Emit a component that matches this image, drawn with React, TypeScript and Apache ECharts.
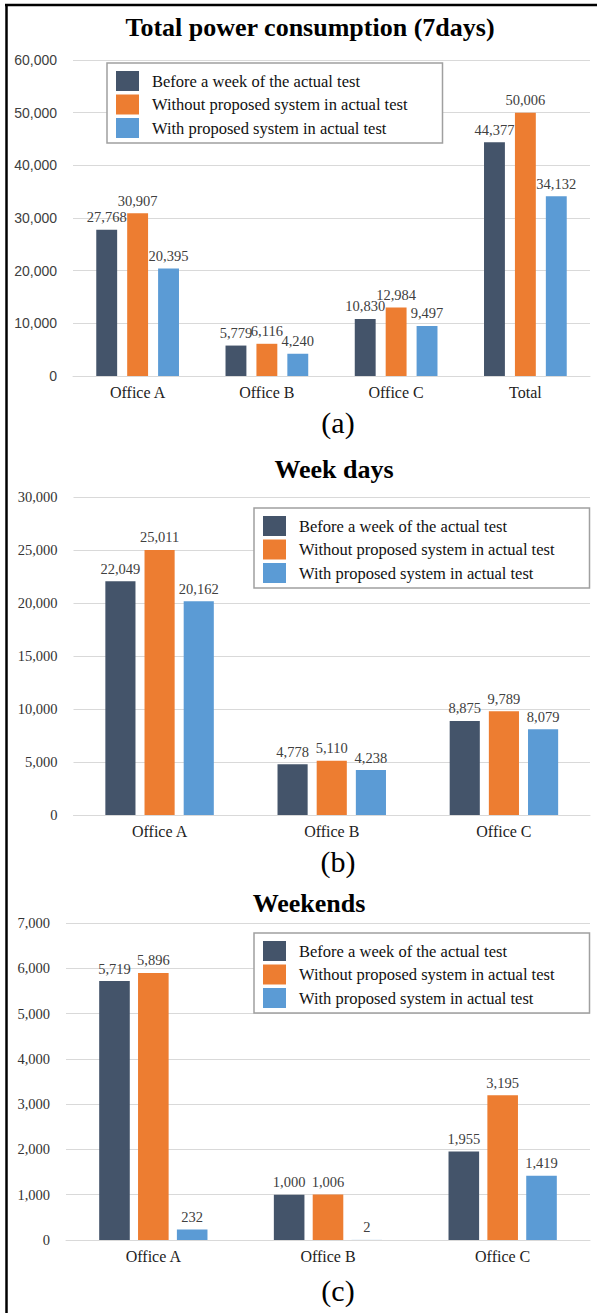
import React, { useEffect, useRef } from "react";
import * as echarts from "echarts";

const seriesNames = [
  "Before a week of the actual test",
  "Without proposed system in actual test",
  "With proposed system in actual test",
];
const colors = ["#44546A", "#ED7D31", "#5B9BD5"];

const totalCategories = ["Office A", "Office B", "Office C", "Total"];
const totalBefore = [27768, 5779, 10830, 44377];
const totalWithout = [30907, 6116, 12984, 50006];
const totalWith = [20395, 4240, 9497, 34132];

const weekCategories = ["Office A", "Office B", "Office C"];
const weekBefore = [22049, 4778, 8875];
const weekWithout = [25011, 5110, 9789];
const weekWith = [20162, 4238, 8079];

const weekendCategories = ["Office A", "Office B", "Office C"];
const weekendBefore = [5719, 1000, 1955];
const weekendWithout = [5896, 1006, 3195];
const weekendWith = [232, 2, 1419];

const titles = ["Total power consumption (7days)", "Week days", "Weekends"];
const captions = ["(a)", "(b)", "(c)"];

const SERIF = '"Liberation Serif", "Times New Roman", serif';
const SANS = '"Liberation Sans", Arial, sans-serif';

export default function App() {
  const ref = useRef<HTMLDivElement>(null);
  useEffect(() => {
    if (!ref.current) return;
    const chart = echarts.init(ref.current, null, { renderer: "svg" });

    const grids = [
      { left: 73, top: 60, right: 7, height: 316 },
      { left: 73.5, top: 497, right: 7, height: 318 },
      { left: 66, top: 923, right: 7, height: 317 },
    ];
    const cats = [totalCategories, weekCategories, weekendCategories];
    const yMax = [60000, 30000, 7000];
    const yInt = [10000, 5000, 1000];
    const yFont = [
      { fontFamily: SANS, fontSize: 14, color: "#404040" },
      { fontFamily: SERIF, fontSize: 14.5, color: "#333" },
      { fontFamily: SERIF, fontSize: 14.5, color: "#333" },
    ];
    const data = [
      [totalBefore, totalWithout, totalWith],
      [weekBefore, weekWithout, weekWith],
      [weekendBefore, weekendWithout, weekendWith],
    ];
    const gaps = [
      { barGap: "48%", barCategoryGap: "36%" },
      { barGap: "30%", barCategoryGap: "37%" },
      { barGap: "27%", barCategoryGap: "38%" },
    ];
    const legendPos = [
      { left: 107, top: 63 },
      { left: 254, top: 508 },
      { left: 254, top: 933 },
    ];
    const titleY = [27, 469, 903];
    const titleX = [310, 334, 309];
    const captionY = [422, 861, 1290];

    const series: any[] = [];
    data.forEach((group, gi) => {
      group.forEach((vals, si) => {
        series.push({
          type: "bar",
          name: seriesNames[si],
          xAxisIndex: gi,
          yAxisIndex: gi,
          data: vals,
          itemStyle: { color: colors[si] },
          barGap: gaps[gi].barGap,
          barCategoryGap: gaps[gi].barCategoryGap,
          label: {
            show: true,
            position: "top",
            distance: 5,
            fontFamily: SERIF,
            fontSize: 14.5,
            color: "#404040",
            formatter: (p: any) => Number(p.value).toLocaleString("en-US"),
          },
        });
      });
    });

    const graphic: any[] = [
      {
        type: "line",
        shape: { x1: 5, y1: 5, x2: 597, y2: 5 },
        style: { stroke: "#000", lineWidth: 2.5 },
      },
      {
        type: "line",
        shape: { x1: 6.5, y1: 4, x2: 6.5, y2: 1313 },
        style: { stroke: "#000", lineWidth: 2.5 },
      },
    ];
    titles.forEach((t, i) => {
      graphic.push({
        type: "text",
        x: titleX[i],
        y: titleY[i],
        style: {
          text: t,
          fontFamily: SERIF,
          fontSize: 26,
          fontWeight: "bold",
          fill: "#000",
          textAlign: "center",
          textVerticalAlign: "middle",
        },
      });
    });
    captions.forEach((t, i) => {
      graphic.push({
        type: "text",
        x: 338,
        y: captionY[i],
        style: {
          text: t,
          fontFamily: SERIF,
          fontSize: 30,
          fill: "#000",
          textAlign: "center",
          textVerticalAlign: "middle",
        },
      });
    });

    chart.setOption({
      animation: false,
      backgroundColor: "#fff",
      grid: grids.map((g) => ({ ...g, containLabel: false })),
      xAxis: cats.map((c, i) => ({
        type: "category",
        gridIndex: i,
        data: c,
        axisTick: { show: false },
        axisLine: { lineStyle: { color: "#d9d9d9", width: 1 } },
        axisLabel: {
          fontFamily: SERIF,
          fontSize: 16,
          color: "#222",
          margin: 8,
        },
      })),
      yAxis: yMax.map((m, i) => ({
        type: "value",
        gridIndex: i,
        min: 0,
        max: m,
        interval: yInt[i],
        axisLine: { show: false },
        axisTick: { show: false },
        splitLine: { lineStyle: { color: "#d9d9d9", width: 1 } },
        axisLabel: {
          ...yFont[i],
          margin: 16,
          formatter: (v: number) => v.toLocaleString("en-US"),
        },
      })),
      legend: legendPos.map((p) => ({
        ...p,
        orient: "vertical",
        data: seriesNames,
        itemWidth: 23,
        itemHeight: 20,
        itemGap: 3.5,
        padding: [8, 35, 5, 9],
        borderColor: "#a0a0a0",
        borderWidth: 1.5,
        backgroundColor: "#fff",
        selectedMode: false,
        icon: "rect",
        textStyle: {
          fontFamily: SERIF,
          fontSize: 16.5,
          color: "#111",
          padding: [0, 0, 0, 8],
        },
      })),
      series,
      graphic,
    });
    return () => chart.dispose();
  }, []);
  return (
    <div
      ref={ref}
      style={{
        position: "absolute",
        left: 0,
        top: 0,
        width: 597,
        height: 1313,
        background: "#fff",
      }}
    />
  );
}
